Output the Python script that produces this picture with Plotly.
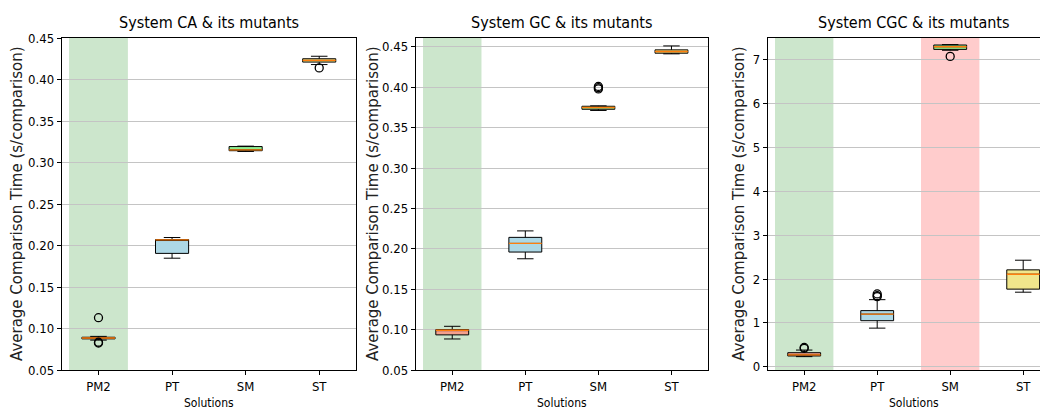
import plotly.graph_objects as go

categories = ["PM2", "PT", "SM", "ST"]
titles = ["System CA & its mutants", "System GC & its mutants", "System CGC & its mutants"]

# System CA
ca_lower = [0.0860, 0.1847, 0.3133, 0.4180]
ca_q1 = [0.0875, 0.1905, 0.3142, 0.4210]
ca_median = [0.0885, 0.2068, 0.3152, 0.4230]
ca_q3 = [0.0895, 0.2072, 0.3192, 0.4250]
ca_upper = [0.0905, 0.2096, 0.3197, 0.4280]
ca_outliers = [[0.113, 0.0835, 0.0825], [], [], [0.414]]

# System GC
gc_lower = [0.0884, 0.1877, 0.3713, 0.4414]
gc_q1 = [0.0935, 0.1960, 0.3728, 0.4422]
gc_median = [0.0992, 0.2067, 0.3749, 0.4442]
gc_q3 = [0.1000, 0.2142, 0.3765, 0.4463]
gc_upper = [0.1041, 0.2222, 0.3770, 0.4512]
gc_outliers = [[], [], [0.4010, 0.3995, 0.3980], []]

# System CGC
cgc_lower = [0.23, 0.88, 7.22, 1.70]
cgc_q1 = [0.245, 1.05, 7.24, 1.77]
cgc_median = [0.27, 1.20, 7.30, 2.11]
cgc_q3 = [0.32, 1.28, 7.34, 2.21]
cgc_upper = [0.38, 1.53, 7.35, 2.43]
cgc_outliers = [[0.44, 0.42], [1.66, 1.62, 1.60], [7.08], []]

# highlighted solutions per panel (green = best, red = worst)
highlights = [[("PM2", "green")], [("PM2", "green")], [("PM2", "green"), ("SM", "red")]]

y_ranges = [[0.05, 0.45], [0.05, 0.461], [-0.075, 7.5]]
y_ticks = [[0.05, 0.10, 0.15, 0.20, 0.25, 0.30, 0.35, 0.40, 0.45],
           [0.05, 0.10, 0.15, 0.20, 0.25, 0.30, 0.35, 0.40, 0.45],
           [0, 1, 2, 3, 4, 5, 6, 7]]

box_colors = ["#f5a08c", "#add8e6", "#90ee90", "#f0e68c"]
span_colors = {"green": "rgba(0,128,0,0.2)", "red": "rgba(255,0,0,0.2)"}

# page body adds an 8px offset; figure is sized so its right edge meets the window edge
OFF = 8
W, H = 1040, 405
domains_px = [(61.7, 356.0), (415.7, 708.0), (767.7, 1048.0)]
ylabel_px = [17, 373, 739]
x_ranges = [[-0.5, 3.5], [-0.5, 3.5], [-0.5, -0.5 + (1048 - 767.7) / 73.0]]
plot_top, plot_bottom = 38.3, 370.5

systems = [
    (ca_lower, ca_q1, ca_median, ca_q3, ca_upper, ca_outliers),
    (gc_lower, gc_q1, gc_median, gc_q3, gc_upper, gc_outliers),
    (cgc_lower, cgc_q1, cgc_median, cgc_q3, cgc_upper, cgc_outliers),
]

BOXW = 0.45
tick_font = dict(family="DejaVu Sans Condensed, DejaVu Sans", size=13, color="black")

fig = go.Figure()
shapes = []
annotations = []
layout = {}

for p, (lo, q1, med, q3, hi, outs) in enumerate(systems):
    sfx = "" if p == 0 else str(p + 1)
    xa, ya = "x" + sfx, "y" + sfx
    for i, cat in enumerate(categories):
        fig.add_trace(go.Box(
            x=[i], q1=[q1[i]], median=[med[i]], q3=[q3[i]],
            lowerfence=[lo[i]], upperfence=[hi[i]],
            fillcolor=box_colors[i], line=dict(color="black", width=1),
            width=BOXW, whiskerwidth=0.5, boxpoints=False,
            xaxis=xa, yaxis=ya, showlegend=False, hoverinfo="skip"))
        fig.add_trace(go.Scatter(
            x=[i - BOXW / 2, i + BOXW / 2], y=[med[i], med[i]], mode="lines",
            line=dict(color="#ff7f0e", width=1.4), xaxis=xa, yaxis=ya,
            showlegend=False, hoverinfo="skip"))
        if outs[i]:
            fig.add_trace(go.Scatter(
                x=[i] * len(outs[i]), y=outs[i], mode="markers",
                marker=dict(symbol="circle-open", color="black", size=8,
                            line=dict(width=1.3, color="black")),
                xaxis=xa, yaxis=ya, showlegend=False, hoverinfo="skip"))
    for cat, col in highlights[p]:
        k = categories.index(cat)
        shapes.append(dict(type="rect", xref=xa, yref=ya + " domain",
                           x0=k - 0.4, x1=k + 0.4, y0=0, y1=1,
                           fillcolor=span_colors[col], line=dict(width=0),
                           layer="below"))
    d0, d1 = domains_px[p]
    d0f, d1f = d0 - OFF, min(d1 - OFF, W)
    layout["xaxis" + sfx] = dict(
        domain=[d0f / W, d1f / W], range=x_ranges[p], anchor=ya,
        tickvals=[0, 1, 2, 3], ticktext=categories, showgrid=False,
        zeroline=False, showline=True, linecolor="black", linewidth=1,
        mirror=True, ticks="outside", ticklen=4, tickcolor="black",
        tickfont=tick_font, automargin=False, fixedrange=True)
    layout["yaxis" + sfx] = dict(
        domain=[0, 1], range=y_ranges[p], anchor=xa,
        tickvals=y_ticks[p], tickformat=".2f" if p < 2 else "d",
        showgrid=True, gridcolor="#c4c4c4", gridwidth=1, zeroline=False,
        showline=True, linecolor="black", linewidth=1,
        mirror=(p < 2), ticks="outside", ticklen=4, tickcolor="black",
        tickfont=tick_font, automargin=False, fixedrange=True)
    cx_px = (d0 + d0 + 4 * (d1 - d0) / 4.0) / 2 if p < 2 else (d0 + d0 + 4 * 73.0) / 2
    cx = (cx_px - OFF) / W
    annotations.append(dict(
        text=titles[p], xref="paper", yref="paper", x=cx, y=1,
        yanchor="bottom", xanchor="center", yshift=4, showarrow=False,
        font=dict(family="DejaVu Sans Condensed, DejaVu Sans", size=16, color="black")))
    annotations.append(dict(
        text="Solutions", xref="paper", yref="paper", x=cx, y=0,
        yanchor="middle", xanchor="center", yshift=-33, showarrow=False,
        font=dict(family="DejaVu Sans Condensed, DejaVu Sans", size=12, color="black")))
    annotations.append(dict(
        text="Average Comparison Time (s/comparison)", xref="paper", yref="paper",
        x=(ylabel_px[p] - OFF) / W, y=0.5, textangle=-90, xanchor="center", yanchor="middle",
        showarrow=False, font=dict(family="DejaVu Sans", size=15, color="#222")))

fig.update_layout(
    width=W, height=H,
    margin=dict(l=0, r=0, t=plot_top - OFF, b=(H + OFF) - plot_bottom),
    paper_bgcolor="white", plot_bgcolor="white",
    shapes=shapes, annotations=annotations, showlegend=False, **layout)

fig.write_html("out.html")
